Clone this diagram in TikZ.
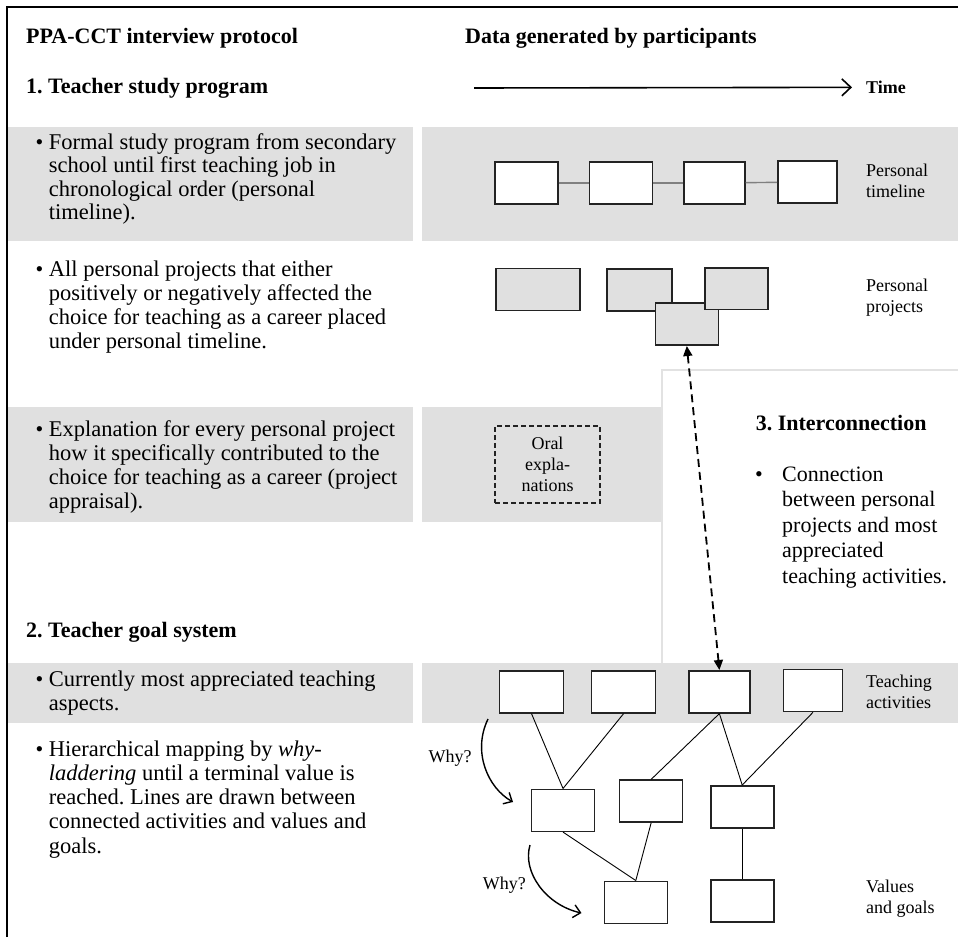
\documentclass[tikz,border=0pt]{standalone}
\usepackage{fontspec}
\setmainfont{Liberation Serif}
\usetikzlibrary{arrows.meta}
\frenchspacing

\definecolor{bandgray}{RGB}{224,224,224}
\definecolor{boxline}{RGB}{35,35,35}
\definecolor{panelline}{RGB}{226,226,226}

\begin{document}
\begin{tikzpicture}[x=1pt,y=-1pt,
    box/.style={draw=boxline,line width=1.6pt,fill=white,inner sep=0pt,minimum width=63pt,minimum height=42pt},
    projbox/.style={box,fill=bandgray},
    oralbox/.style={draw=boxline,line width=1.4pt,dash pattern=on 5pt off 3pt,inner sep=0pt,align=center,font=\fontsize{18}{21}\selectfont},
    heading/.style={anchor=base west,inner sep=0pt,font=\fontsize{22}{26}\selectfont\bfseries},
    bodytext/.style={anchor=base west,align=left,inner sep=0pt,font=\fontsize{22.5}{24.3}\selectfont},
    bulletmark/.style={anchor=base west,inner sep=0pt,font=\fontsize{22}{24.3}\selectfont},
    sidelabel/.style={anchor=base west,align=left,inner sep=0pt,font=\fontsize{18}{21}\selectfont},
    tlline/.style={draw=gray,line width=1.4pt},
    link/.style={line width=0.9pt},
    why/.style={line width=1.4pt,-{Straight Barb[length=7pt,width=13pt]}}]
\useasboundingbox (0,0) rectangle (958,937);

% gray bands
\fill[bandgray] (8,127) rectangle (413,241);
\fill[bandgray] (422,127) rectangle (958,241);
\fill[bandgray] (8,407) rectangle (413,522);
\fill[bandgray] (422,407) rectangle (661,522);
\fill[bandgray] (8,663) rectangle (413,723);
\fill[bandgray] (422,663) rectangle (958,723);
\draw[panelline,line width=2pt] (661.5,663) -- (661.5,369.5) -- (958,369.5);
\draw[line width=2pt] (7,937) -- (7,7) -- (958,7);

% headings
\node[heading] (hprot) at (26,43) {PPA-CCT interview protocol};
\node[heading] (hdata) at (465,43) {Data generated by participants};
\node[heading] (hone) at (26,93) {1. Teacher study program};
\node[heading] (htwo) at (26,637) {2. Teacher goal system};
\node[heading] (hthree) at (755.6,430) {3. Interconnection};

% time axis
\coordinate (t0) at (474,88);
\node[anchor=base west,inner sep=0pt,font=\fontsize{18}{21}\selectfont\bfseries] (time) at (866,93.5) {Time};
\draw[line width=1.6pt,-{Straight Barb[length=9pt,width=17pt]}] (t0) -- ([xshift=-14pt]time.west);

% protocol items (base = last line)
\node[bulletmark] (b1) at (35.5,149) {\textbullet};
\node[bodytext,font=\fontsize{22.5}{23.5}\selectfont] (i1) at (48.7,219.5) {Formal study program from secondary\\school until first teaching job in\\chronological order (personal\\timeline).};
\node[bulletmark] (b2) at (35.5,276) {\textbullet};
\node[bodytext] (i2) at (48.7,348.9) {All personal projects that either\\positively or negatively affected the\\choice for teaching as a career placed\\under personal timeline.};
\node[bulletmark] (b3) at (35.5,436) {\textbullet};
\node[bodytext] (i3) at (48.7,508.9) {Explanation for every personal project\\how it specifically contributed to the\\choice for teaching as a career (project\\appraisal).};
\node[bulletmark] (b4) at (35.5,686) {\textbullet};
\node[bodytext] (i4) at (48.7,710.3) {Currently most appreciated teaching\\aspects.};
\node[bulletmark] (b5) at (35.5,756) {\textbullet};
\node[bodytext] (i5) at (48.7,853.2) {Hierarchical mapping by \textit{why-}\\\textit{laddering} until a terminal value is\\reached. Lines are drawn between\\connected activities and values and\\goals.};
\node[bulletmark] (b6) at (755,481) {\textbullet};
\node[bodytext,font=\fontsize{22}{25.5}\selectfont] (i6) at (782,583) {Connection\\between personal\\projects and most\\appreciated\\teaching activities.};

% personal timeline
\node[box] (tl1) at (526.4,183) {};
\node[box] (tl2) at (620.8,183) {};
\node[box,minimum width=61pt] (tl3) at (714.3,183) {};
\node[box,minimum width=59pt] (tl4) at (807.5,182) {};
\draw[tlline] (tl1) -- (tl2);
\draw[tlline] (tl2) -- (tl3);
\draw[tlline] (tl3) -- (tl4);
\node[sidelabel] (ltl) at (866,197) {Personal\\timeline};

% personal projects
\node[projbox,minimum width=84pt] (pp1) at (538,289.3) {};
\node[projbox,minimum width=65pt] (pp2) at (639.2,289.7) {};
\node[projbox] (pp4) at (686.8,324.2) {};
\node[projbox,minimum width=63.5pt,minimum height=41.5pt] (pp3) at (736.5,288.7) {};
\node[sidelabel] (lpp) at (866,312) {Personal\\projects};

\node[oralbox,minimum width=105pt,minimum height=77pt] (oral) at (547.5,464.3) {Oral\\expla-\\nations};

% teaching activities and goal system
\node[box,minimum width=64pt] (ta1) at (531.5,691.8) {};
\node[box,minimum width=64pt] (ta2) at (623.6,691.8) {};
\node[box,minimum width=61pt] (ta3) at (719.4,691.8) {};
\node[box,minimum width=59pt] (ta4) at (813,690.5) {};
\node[sidelabel] (lta) at (866,708) {Teaching\\activities};

\node[box] (mid1) at (563,810.3) {};
\node[box] (mid2) at (651.1,801.2) {};
\node[box] (mid3) at (742.2,806.8) {};
\node[box] (vg1) at (635.8,902.3) {};
\node[box] (vg2) at (742.2,900.8) {};
\node[sidelabel] (lvg) at (866,913) {Values\\and goals};

\draw[link] (ta1.south) -- (mid1.north);
\draw[link] (ta2.south) -- (mid1.north);
\draw[link] (ta3.south) -- (mid2.north);
\draw[link] (ta3.south) -- (mid3.north);
\draw[link] (ta4.south) -- (mid3.north);
\draw[link] (mid1.south) -- (vg1.north);
\draw[link] (mid2.south) -- (vg1.north);
\draw[link] (mid3.south) -- (vg2.north);

\draw[line width=1.8pt,dash pattern=on 8pt off 5pt,{Triangle[length=10pt,width=9pt]}-{Triangle[length=10pt,width=9pt]}] (pp4.south) -- (ta3.north);

% why-laddering
\node[sidelabel] (why1) at (428.5,762) {Why?};
\node[sidelabel] (why2) at (482.6,889) {Why?};
\coordinate (w1a) at (488,719);
\coordinate (w1b) at (513,802);
\coordinate (w2a) at (530,845);
\coordinate (w2b) at (581.5,913);
\draw[why] (w1a) .. controls (472,752) and (488,788) .. (w1b);
\draw[why] (w2a) .. controls (522,872) and (546,905) .. (w2b);
\end{tikzpicture}
\end{document}
